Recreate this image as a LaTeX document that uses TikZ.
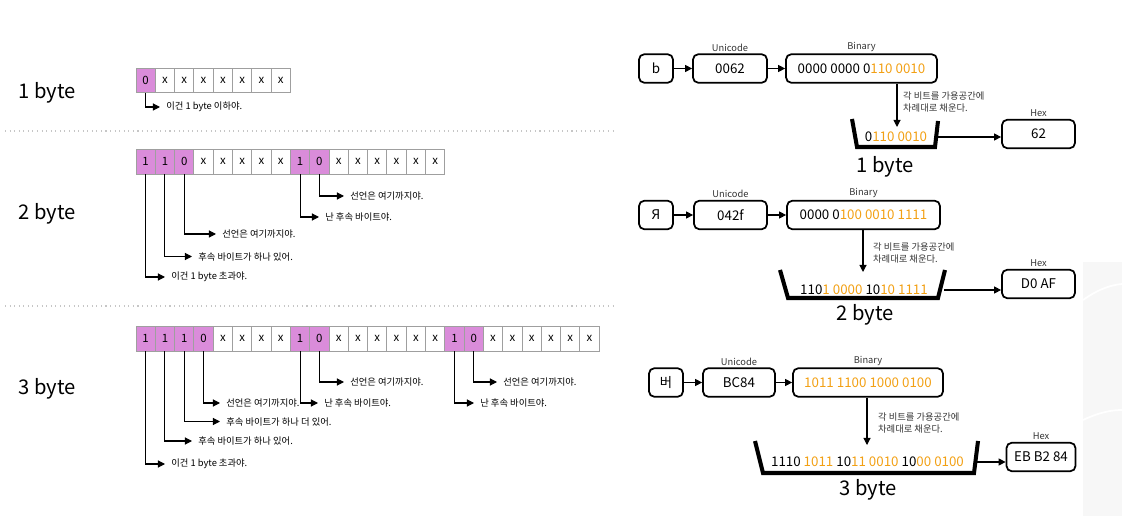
\documentclass[tikz,border=0pt]{standalone}
\usepackage{fontspec}
\setmainfont{Noto Sans CJK KR}
\usetikzlibrary{arrows.meta,positioning}
\definecolor{bitpurple}{RGB}{218,140,218}
\definecolor{bitorange}{RGB}{242,160,20}
\newcommand\orng[1]{\textcolor{bitorange}{#1}}
\tikzset{
  cell/.style={draw=gray!75, line width=0.5pt, minimum width=0.386cm, minimum height=0.49cm, inner sep=0pt, font=\fontsize{6.5}{7}\selectfont},
  bit0/.style={cell, fill=bitpurple},
  bit1/.style={cell, fill=bitpurple},
  bitx/.style={cell, fill=white},
  note/.style={anchor=west, inner xsep=3.4pt, inner ysep=0pt, font=\fontsize{5.3}{6}\selectfont},
  callout/.style={line width=0.6pt, -{Triangle[length=4pt,width=4pt]}},
  rowlabel/.style={font=\fontsize{11.5}{13}\selectfont, inner sep=0pt},
  box/.style={draw, line width=1pt, rounded corners=3pt, minimum height=0.57cm, inner sep=0pt, font=\fontsize{7.6}{9}\selectfont},
  tag/.style={font=\fontsize{5.3}{6.8}\selectfont, text=black!80, inner sep=1pt},
  bits/.style={font=\fontsize{7.6}{9}\selectfont, inner sep=0pt},
  flow/.style={line width=0.6pt, -{Triangle[length=4pt,width=4pt]}},
  bucket/.style={line width=2.3pt, line join=miter},
  sep/.style={gray!45, dotted, line width=0.6pt},
}
% 한 줄의 비트 칸: 이름 접두사, 윗변 y, 비트 목록
\newcommand\bitrow[3]{%
  \foreach \b [count=\i from 0] in {#3}
    \node[bit\b] (#1\i) at (145.65+19.3*\i, #2+12.25) {\b};
}
\begin{document}
\begin{tikzpicture}[x=0.02cm, y=-0.02cm]
    \useasboundingbox (0,0) rectangle (1122,516);

    % 배경 로고
    \fill[gray!6] (1083,262) rectangle (1122,516);
    \draw[white, line width=1pt] (1083,300) .. controls (1100,288) and (1112,285) .. (1122,284);
    \draw[white, line width=1pt] (1083,420) .. controls (1100,412) and (1112,410) .. (1122,410);

    % 구분선
    \draw[sep] (5,131) -- (615,131);
    \draw[sep] (5,306) -- (615,306);

    % 1 byte
    \node[rowlabel] (len1) at (47,93) {1 byte};
    \bitrow{one-}{68}{0,x,x,x,x,x,x,x}
    \node[note] (one-n0) at (160,107) {이건 1 byte 이하야.};
    \draw[callout] (one-0.south) |- (one-n0.west);

    % 2 byte
    \node[rowlabel] (len2) at (47,214) {2 byte};
    \bitrow{two-}{149.5}{1,1,0,x,x,x,x,x,1,0,x,x,x,x,x,x}
    \node[note] (two-n0) at (165,277) {이건 1 byte 초과야.};
    \node[note] (two-n1) at (192,256.5) {후속 바이트가 하나 있어.};
    \node[note] (two-n2) at (216,234) {선언은 여기까지야.};
    \node[note] (two-n8) at (319,217) {난 후속 바이트야.};
    \node[note] (two-n9) at (344,196) {선언은 여기까지야.};
    \foreach \k in {0,1,2,8,9}
        \draw[callout] (two-\k.south) |- (two-n\k.west);

    % 3 byte
    \node[rowlabel] (len3) at (47,389) {3 byte};
    \bitrow{three-}{326.5}{1,1,1,0,x,x,x,x,1,0,x,x,x,x,x,x,1,0,x,x,x,x,x,x}
    \node[note] (three-n0) at (165,464) {이건 1 byte 초과야.};
    \node[note] (three-n1) at (192,441) {후속 바이트가 하나 있어.};
    \node[note] (three-n2) at (220,421.5) {후속 바이트가 하나 더 있어.};
    \node[note] (three-n3) at (220,403) {선언은 여기까지야.};
    \node[note] (three-n8) at (318,403) {난 후속 바이트야.};
    \node[note] (three-n9) at (344,382) {선언은 여기까지야.};
    \node[note] (three-n16) at (474,403) {난 후속 바이트야.};
    \node[note] (three-n17) at (497,382) {선언은 여기까지야.};
    \foreach \k in {0,1,2,3,8,9,16,17}
        \draw[callout] (three-\k.south) |- (three-n\k.west);

    % 예시 1: b
    \node[box, minimum width=0.68cm] (ch1) at (656,68.5) {b};
    \node[box, minimum width=1.48cm] (uni1) at (730,68.5) {0062};
    \node[box, minimum width=3.02cm] (bin1) at (861.5,68.5) {0000 0000 0\orng{110 0010}};
    \node[tag, above=0pt of uni1] (uni1l) {Unicode};
    \node[tag, above=0pt of bin1] (bin1l) {Binary};
    \draw[flow] (ch1) -- (uni1);
    \draw[flow] (uni1) -- (bin1);
    \coordinate (in1) at (897,127);
    \draw[flow] (bin1.south -| in1) -- (in1);
    \node[tag, anchor=west, align=left] (fill1) at (901,102) {각 비트를 가용공간에\\차례대로 채운다.};
    \draw[bucket] (852,119) -- (857,147) -- (935,147) -- (938,121);
    \node[bits] (pk1) at (896,137) {0\orng{110 0010}};
    \node[rowlabel] (sz1) at (885,167) {1 byte};
    \coordinate (out1) at (938,137);
    \node[box, minimum width=1.46cm] (hex1) at (1038.5,134) {62};
    \node[tag, above=0pt of hex1] (hex1l) {Hex};
    \draw[flow] (out1) -- (out1 -| hex1.west);

    % 예시 2: Я
    \node[box, minimum width=0.68cm] (ch2) at (656,215) {Я};
    \node[box, minimum width=1.46cm] (uni2) at (730.5,215) {042f};
    \node[box, minimum width=3.06cm] (bin2) at (863.5,215) {0000 0\orng{100 0010 1111}};
    \node[tag, above=0pt of uni2] (uni2l) {Unicode};
    \node[tag, above=0pt of bin2] (bin2l) {Binary};
    \draw[flow] (ch2) -- (uni2);
    \draw[flow] (uni2) -- (bin2);
    \coordinate (in2) at (863,272);
    \draw[flow] (bin2.south -| in2) -- (in2);
    \node[tag, anchor=west, align=left] (fill2) at (871,253) {각 비트를 가용공간에\\차례대로 채운다.};
    \draw[bucket] (780,270) -- (788,298) -- (938,298) -- (945,270);
    \node[bits] (pk2) at (864,290) {110\orng{1 0000} 10\orng{10 1111}};
    \node[rowlabel] (sz2) at (865,315) {2 byte};
    \coordinate (out2) at (944,290);
    \node[box, minimum width=1.46cm] (hex2) at (1038.5,284) {D0 AF};
    \node[tag, above=0pt of hex2] (hex2l) {Hex};
    \draw[flow] (out2) -- (out2 -| hex2.west);

    % 예시 3: 버
    \node[box, minimum width=0.68cm] (ch3) at (666,382.5) {버};
    \node[box, minimum width=1.44cm] (uni3) at (739,382.5) {BC84};
    \node[box, minimum width=3.0cm] (bin3) at (868,382.5) {\orng{1011 1100 1000 0100}};
    \node[tag, above=0pt of uni3] (uni3l) {Unicode};
    \node[tag, above=0pt of bin3] (bin3l) {Binary};
    \draw[flow] (ch3) -- (uni3);
    \draw[flow] (uni3) -- (bin3);
    \coordinate (in3) at (867,445);
    \draw[flow] (bin3.south -| in3) -- (in3);
    \node[tag, anchor=west, align=left] (fill3) at (876,423) {각 비트를 가용공간에\\차례대로 채운다.};
    \draw[bucket] (755,441) -- (763,473) -- (974,473) -- (978,441);
    \node[bits] (pk3) at (867.5,462) {1110 \orng{1011} 10\orng{11 0010} 10\orng{00 0100}};
    \node[rowlabel] (sz3) at (868,490) {3 byte};
    \coordinate (out3) at (977,462);
    \node[box, minimum width=1.38cm] (hex3) at (1041,457) {EB B2 84};
    \node[tag, above=0pt of hex3] (hex3l) {Hex};
    \draw[flow] (out3) -- (out3 -| hex3.west);
\end{tikzpicture}
\end{document}
